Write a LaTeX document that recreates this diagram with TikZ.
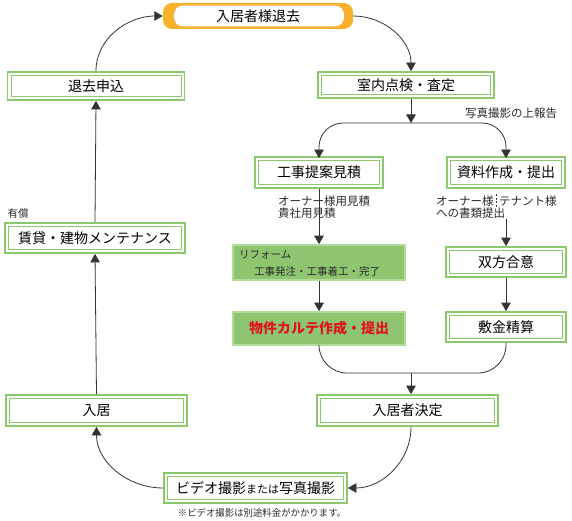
\documentclass[tikz,border=0pt]{standalone}
\usepackage{fontspec}
\setmainfont{Noto Sans CJK JP}
\usetikzlibrary{arrows.meta,calc}
\definecolor{gb}{HTML}{8CC96C}
\definecolor{gfill}{HTML}{8DC66E}
\definecolor{gedge}{HTML}{B3DC9C}
\definecolor{orng}{HTML}{F6B12D}
\definecolor{redtxt}{HTML}{E0141E}
\definecolor{ln}{HTML}{333333}
\newcommand{\fsz}[1]{\fontsize{#1}{#1}\selectfont}
\tikzset{
  gbox/.style 2 args={draw=gb, line width=1.8pt, fill=white, inner sep=0pt,
    minimum width=#1, minimum height=#2, font=\fsz{14}, text=black,
    path picture={\draw[gb, line width=0.8pt]
      ($(path picture bounding box.south west)+(3.6pt,3.6pt)$) rectangle
      ($(path picture bounding box.north east)+(-3.6pt,-3.6pt)$);}},
  fbox/.style 2 args={draw=gedge, line width=1.6pt, fill=gfill, inner sep=0pt,
    minimum width=#1, minimum height=#2},
  conn/.style={draw=ln, line width=0.8pt},
  arr/.style={conn, -{Triangle[length=8.5pt,width=9.5pt]}},
  lbl/.style={font=\fsz{11.5}, inner sep=0pt, text=ln!80!black},
}
\begin{document}
\begin{tikzpicture}[x=1pt,y=-1pt]
\useasboundingbox (0,0) rectangle (572,521);

% top box
\node[fill=orng, rounded corners=9pt, minimum width=190pt, minimum height=26pt, inner sep=0pt,
  path picture={\fill[white] ($(path picture bounding box.south west)+(11pt,2.6pt)$) rectangle
      ($(path picture bounding box.north east)+(-9pt,-2.6pt)$);},
  font=\fsz{14}] (quit) at (258,16) {入居者様退去};

\node[gbox={177pt}{28pt}] (taikyo) at (96,86) {退去申込};
\node[gbox={176pt}{26pt}] (inspect) at (406,85) {室内点検・査定};
\node[gbox={128pt}{31pt}] (kouji) at (319,172.5) {工事提案見積};
\node[gbox={118pt}{31pt}] (shiryo) at (506,172.5) {資料作成・提出};
\node[fbox={172pt}{35pt}] (reform) at (319,262.5) {};
\node[fbox={172pt}{33pt}, font=\fsz{14}\bfseries, text=redtxt] (karte) at (319,328.5) {物件カルテ作成・提出};
\node[gbox={120pt}{30pt}] (goi) at (506,262) {双方合意};
\node[gbox={120pt}{30pt}] (shikikin) at (506,327) {敷金精算};
\node[gbox={181pt}{31pt}] (kettei) at (407.5,410.5) {入居者決定};
\node[gbox={183pt}{30pt}] (video) at (255.5,488)
  {ビデオ撮影{\fsz{11}または}写真撮影};
\node[gbox={181pt}{31pt}] (nyukyo) at (96.5,410.5) {入居};
\node[gbox={180pt}{30pt}] (chintai) at (95,238) {賃貸・建物メンテナンス};

% texts
\node[lbl, anchor=west, font=\fsz{10.5}] (reformA) at (239,255) {リフォーム};
\node[lbl, anchor=west, font=\fsz{10.5}] (reformB) at (254,272) {工事発注・工事着工・完了};
\node[lbl, anchor=center] (report) at (511,113) {写真撮影の上報告};
\node[lbl, anchor=center, font=\fsz{10.5}] (yusho) at (18,214) {有償};
\node[lbl, anchor=center, font=\fsz{9.4}] (note) at (262,513) {※ビデオ撮影は別途料金がかかります。};

\coordinate (split) at (411,123);
\coordinate (merge) at (411,373);

% connectors
\draw[arr] (taikyo.north) to[out=90,in=180] (quit.west);
\draw[arr] (quit.east) to[out=0,in=90] (inspect.north -| split);
\draw[arr] (inspect.south -| split) -- (split);
\draw[arr, rounded corners=24pt] (split) -| ($(kouji.north)+(0,-2pt)$);
\draw[arr, rounded corners=24pt] (split) -| ($(shiryo.north)+(0,-2pt)$);

\draw[arr] (kouji.south) -- (reform.north);
\node[lbl, anchor=west] (kl1) at (278,201) {オーナー様用見積};
\node[lbl, anchor=west] (kl2) at (278,213) {貴社用見積};

\node[lbl, anchor=west] (sl1) at (436,201) {オーナー様};
\node[lbl, anchor=west] (sl2) at (499,201) {テナント様};
\node[lbl, anchor=west] (sl3) at (436,213) {への書類提出};
\coordinate (sep) at ($(sl1.east)!0.5!(sl2.west)$);
\draw[conn, line width=1pt, dash pattern=on 2pt off 1.6pt] ($(sep)+(0,7pt)$) -- ($(sep)+(0,-7pt)$);
\draw[arr] (sl3.south -| goi.north) -- (goi.north);

\draw[arr] (reform.south) -- (karte.north);
\draw[arr] (goi.south) -- (shikikin.north);

\draw[conn, rounded corners=28pt] (karte.south) |- (merge);
\draw[conn, rounded corners=28pt] (shikikin.south) |- (merge);
\draw[arr] (merge) -- (merge |- kettei.north);

\draw[arr] (kettei.south -| merge) to[out=-90,in=0] (video.east);
\draw[arr] (video.west) to[out=180,in=-90] (nyukyo.south);
\draw[arr] (nyukyo.north) -- (chintai.south);
\draw[arr] (chintai.north) -- (taikyo.south);
\end{tikzpicture}
\end{document}
